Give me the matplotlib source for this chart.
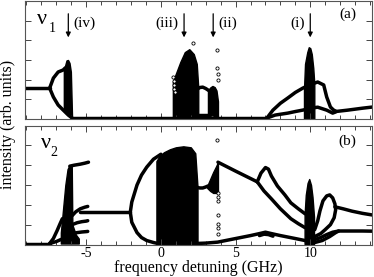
import matplotlib
matplotlib.use("Agg")
import matplotlib.pyplot as plt
from matplotlib.ticker import MultipleLocator, FixedLocator

# ---------------- data (GHz, arb. units) ----------------
# top panel (nu1)
t_flat_x = [-9.1, -7.45]
t_flat_y = [1.57, 1.57]
t_loop_up_x = [-7.45, -7.2, -6.88, -6.55, -6.4]
t_loop_up_y = [1.57, 2.08, 2.39, 2.49, 2.6]
t_loop_lo_x = [-7.45, -7.2, -6.88, -6.55, -6.2, -5.95]
t_loop_lo_y = [1.57, 1.12, 0.71, 0.46, 0.2, 0.05]
t_iv_x = [-6.5, -6.42, -6.32, -6.22, -6.12, -6.03, -5.95]
t_iv_top = [2.5, 2.7, 2.98, 3.0, 2.85, 2.4, 0.1]
t_iv_bot = [0.42, 0.38, 0.3, 0.22, 0.15, 0.08, 0.05]
t_zero_x = [-5.95, 7.1]
t_zero_y = [0.05, 0.05]
t_iii_x = [0.8, 1.0, 1.3, 1.6, 1.9, 2.2, 2.4, 2.5]
t_iii_top = [1.9, 2.3, 2.9, 3.4, 3.55, 3.3, 2.8, 1.6]
t_hump_up_x = [2.4, 2.6, 2.8, 3.0, 3.2]
t_hump_up_y = [1.5, 1.6, 1.62, 1.55, 1.45]
t_hump_lo_x = [2.4, 3.3]
t_hump_lo_y = [0.2, 0.2]
t_ii_x = [3.15, 3.3, 3.45, 3.6, 3.72, 3.82]
t_ii_top = [1.45, 1.6, 1.68, 1.62, 1.45, 0.9]
t_ii_bot = [0.2, 0.2, 0.18, 0.15, 0.1, 0.05]
t_up_x = [7.1, 7.5, 8.0, 8.5, 9.0, 9.5, 10.0, 10.5, 10.9, 11.1, 11.35, 11.55, 11.7]
t_up_y = [0.05, 0.45, 0.8, 1.07, 1.35, 1.57, 1.75, 1.88, 1.73, 1.12, 0.61, 0.46, 0.4]
t_lo_x = [7.1, 7.65, 8.5, 9.0, 9.55, 10.0, 10.5, 11.1, 11.5, 11.7]
t_lo_y = [0.05, 0.2, 0.3, 0.38, 0.46, 0.55, 0.6, 0.45, 0.3, 0.36]
t_right_x = [11.7, 12.5, 13.5, 14.3]
t_right_y = [0.38, 0.45, 0.55, 0.62]
t_i_x = [9.58, 9.65, 9.8, 9.9, 10.0, 10.1, 10.2, 10.27]
t_i_top = [1.5, 2.8, 3.4, 3.65, 3.6, 3.3, 2.6, 1.8]
t_scat_x = [0.82, 0.85, 0.88, 0.9, 0.93, 2.15, 3.78, 3.78, 3.8, 3.8]
t_scat_y = [2.15, 1.95, 1.75, 1.55, 1.35, 3.85, 3.5, 2.6, 2.3, 2.0]

# bottom panel (nu2)
b_zero_x = [-9.1, -7.45]
b_zero_y = [0.05, 0.05]
b_rise1_x = [-7.45, -7.2, -6.95, -6.75, -6.6]
b_rise1_y = [0.05, 0.3, 0.7, 1.05, 1.3]
b_rise2_x = [-7.45, -7.0, -6.7, -6.5]
b_rise2_y = [0.05, 0.15, 0.25, 0.3]
b_iv_x = [-6.7, -6.55, -6.4, -6.25, -6.15, -5.97, -5.93, -5.7, -5.5]
b_iv_top = [0.6, 1.8, 3.0, 3.8, 3.95, 3.95, 1.0, 0.5, 0.3]
b_iv_bot = [0.05, 0.05, 0.05, 0.05, 0.05, 0.05, 0.05, 0.05, 0.05]
b_branch_x = [-6.1, -5.8, -5.4, -5.1, -4.85]
b_branch_y = [3.95, 4.0, 4.05, 4.1, 4.15]
b_f1_x = [-5.95, -5.7, -5.4, -5.1, -4.9]
b_f1_y = [1.45, 1.65, 1.8, 1.88, 1.92]
b_f2_x = [-5.95, -5.6, -5.3, -5.0, -4.9]
b_f2_y = [1.0, 1.1, 1.15, 1.18, 1.2]
b_f3_x = [-5.95, -5.6, -5.3, -5.0, -4.9]
b_f3_y = [0.55, 0.6, 0.63, 0.65, 0.66]
b_flat_x = [-5.45, -2.05]
b_flat_y = [1.63, 1.63]
b_bub_up_x = [-2.05, -1.95, -1.6, -1.3, -0.95, -0.5, 0.0]
b_bub_up_y = [1.63, 2.14, 3.0, 3.5, 3.9, 4.3, 4.55]
b_bub_lo_x = [-2.05, -1.95, -1.6, -1.3, -0.95, -0.5, -0.2]
b_bub_lo_y = [1.63, 1.12, 0.6, 0.35, 0.2, 0.1, 0.05]
b_iii_x = [-0.3, -0.1, 0.2, 0.6, 1.0, 1.5, 2.0, 2.3, 2.45]
b_iii_top = [4.2, 4.45, 4.65, 4.8, 4.9, 4.95, 4.9, 4.6, 2.9]
b_mid_x = [2.3, 2.6, 2.8, 3.0, 3.15]
b_mid_y = [2.9, 2.85, 2.85, 2.9, 2.95]
b_ii_x = [3.1, 3.3, 3.5, 3.7, 3.82]
b_ii_top = [2.95, 3.3, 3.65, 3.95, 4.15]
b_ii_bot = [2.85, 2.7, 2.6, 2.6, 2.65]
b_desc_x = [3.82, 5.0, 6.45]
b_desc_y = [4.15, 3.7, 3.16]
b_arc_up_x = [6.45, 6.7, 7.0, 7.2, 7.4, 7.8, 8.3, 8.7, 9.2, 9.65]
b_arc_up_y = [3.16, 3.6, 3.88, 3.8, 3.45, 2.95, 2.5, 2.1, 1.8, 1.55]
b_arc_lo_x = [6.45, 6.9, 7.4, 8.0, 8.7, 9.2, 9.65]
b_arc_lo_y = [3.16, 2.7, 2.3, 1.8, 1.3, 1.05, 0.85]
b_base_x = [2.3, 3.0, 3.8, 5.0, 6.0, 6.6, 7.0, 7.4, 8.0, 9.0, 9.65]
b_base_y = [0.05, 0.07, 0.12, 0.3, 0.45, 0.55, 0.62, 0.55, 0.45, 0.3, 0.2]
b_base2_x = [6.6, 6.9, 7.2, 7.5]
b_base2_y = [0.45, 0.52, 0.5, 0.42]
b_i_x = [9.62, 9.7, 9.82, 9.93, 10.05, 10.15, 10.25]
b_i_top = [1.5, 2.5, 3.1, 3.3, 3.0, 2.4, 1.4]
b_loop_x = [10.3, 10.5, 10.65, 10.85, 11.1, 11.3, 11.5, 11.65, 11.7, 11.6, 11.35, 11.0, 10.7, 10.3]
b_loop_y = [0.75, 1.2, 1.7, 2.2, 2.45, 2.5, 2.35, 2.05, 1.75, 1.35, 1.0, 0.75, 0.55, 0.4]
b_rup_x = [11.65, 12.2, 12.8, 13.5, 14.3]
b_rup_y = [1.9, 1.8, 1.68, 1.57, 1.47]
b_rlo_x = [10.3, 10.7, 11.1, 11.5, 11.9, 12.5, 13.5, 14.3]
b_rlo_y = [0.25, 0.35, 0.5, 0.62, 0.68, 0.68, 0.68, 0.67]
b_rlo2_x = [10.3, 10.8, 11.3, 11.7, 11.9]
b_rlo2_y = [0.1, 0.2, 0.4, 0.6, 0.68]
b_scat_x = [3.78, 3.8, 3.8, 3.8, 3.8, 3.8, 3.8, 3.8]
b_scat_y = [5.25, 2.6, 2.4, 2.2, 1.5, 1.05, 0.85, 0.55]

arrow_x = [10.0, 3.5, 1.55, -6.2]
arrow_lbl = ["(i)", "(ii)", "(iii)", "(iv)"]
arrow_side = ["left", "right", "left", "right"]

xticks = [-5, 0, 5, 10]
xticklabels = ["-5", "0", "5", "10"]

# ---------------- figure ----------------
SERIF = ["Liberation Serif", "DejaVu Serif"]
plt.rcParams["font.family"] = SERIF
W, H = 374, 277
fig = plt.figure(figsize=(W / 100, H / 100), dpi=100)

def ax_rect(l, t, r, b):
    return [l / W, 1 - b / H, (r - l) / W, (b - t) / H]

ax1 = fig.add_axes(ax_rect(25, 1, 371.5, 119))
ax2 = fig.add_axes(ax_rect(25, 125.5, 371.5, 244.5))

LW = 2.5
K = "black"

def line(ax, x, y):
    ax.plot(x, y, color=K, lw=LW, solid_capstyle="round", solid_joinstyle="round", clip_on=True)

def block(ax, x, top, bot=None):
    if bot is None:
        bot = [0.03] * len(x)
    ax.fill_between(x, bot, top, color=K, lw=1.0, edgecolor=K)

def scat(ax, x, y):
    ax.plot(x, y, ls="none", marker="o", ms=2.3, mfc="white", mec=K, mew=0.6)

# top
line(ax1, t_flat_x, t_flat_y)
line(ax1, t_loop_up_x, t_loop_up_y)
line(ax1, t_loop_lo_x, t_loop_lo_y)
block(ax1, t_iv_x, t_iv_top, t_iv_bot)
line(ax1, t_zero_x, t_zero_y)
block(ax1, t_iii_x, t_iii_top)
line(ax1, t_hump_up_x, t_hump_up_y)
line(ax1, t_hump_lo_x, t_hump_lo_y)
block(ax1, t_ii_x, t_ii_top, t_ii_bot)
line(ax1, t_up_x, t_up_y)
line(ax1, t_lo_x, t_lo_y)
line(ax1, t_right_x, t_right_y)
block(ax1, t_i_x, t_i_top)
scat(ax1, t_scat_x, t_scat_y)

# bottom
line(ax2, b_zero_x, b_zero_y)
line(ax2, b_rise1_x, b_rise1_y)
line(ax2, b_rise2_x, b_rise2_y)
block(ax2, b_iv_x, b_iv_top, b_iv_bot)
line(ax2, b_branch_x, b_branch_y)
line(ax2, b_f1_x, b_f1_y)
line(ax2, b_f2_x, b_f2_y)
line(ax2, b_f3_x, b_f3_y)
line(ax2, b_flat_x, b_flat_y)
line(ax2, b_bub_up_x, b_bub_up_y)
line(ax2, b_bub_lo_x, b_bub_lo_y)
block(ax2, b_iii_x, b_iii_top)
line(ax2, b_mid_x, b_mid_y)
block(ax2, b_ii_x, b_ii_top, b_ii_bot)
line(ax2, b_desc_x, b_desc_y)
line(ax2, b_arc_up_x, b_arc_up_y)
line(ax2, b_arc_lo_x, b_arc_lo_y)
line(ax2, b_base_x, b_base_y)
line(ax2, b_base2_x, b_base2_y)
block(ax2, b_i_x, b_i_top)
line(ax2, b_loop_x, b_loop_y)
line(ax2, b_rup_x, b_rup_y)
line(ax2, b_rlo_x, b_rlo_y)
line(ax2, b_rlo2_x, b_rlo2_y)
scat(ax2, b_scat_x, b_scat_y)

for ax in (ax1, ax2):
    ax.set_xlim(-9.1, 14.1)
    ax.set_ylim(0, 6)
    ax.xaxis.set_major_locator(FixedLocator(xticks))
    ax.xaxis.set_minor_locator(MultipleLocator(1))
    ax.yaxis.set_major_locator(MultipleLocator(1))
    ax.tick_params(which="both", direction="in", top=True, right=True,
                   width=0.7, color="#444444")
    ax.tick_params(which="major", length=4)
    ax.tick_params(which="minor", length=3)
    ax.set_yticklabels([])
    for s in ax.spines.values():
        s.set_linewidth(0.8)
        s.set_color("#555555")

ax1.set_xticklabels([])
ax2.set_xticklabels(xticklabels, fontsize=10)
ax2.tick_params(axis="x", pad=1.5)

# arrows and labels (top panel)
for xa, lb, side in zip(arrow_x, arrow_lbl, arrow_side):
    ax1.annotate("", xy=(xa, 4.15), xytext=(xa, 5.35),
                 arrowprops=dict(arrowstyle="-|>", color=K, lw=0.9,
                                 mutation_scale=7, shrinkA=0, shrinkB=0))
    dx = 0.35 if side == "right" else -0.35
    ax1.text(xa + dx, 4.85, lb, ha="left" if side == "right" else "right",
             va="center", fontsize=11)

ax1.text(0.955, 0.885, "(a)", transform=ax1.transAxes, ha="right", va="center", fontsize=11)
ax2.text(0.955, 0.87, "(b)", transform=ax2.transAxes, ha="right", va="center", fontsize=11)

# nu labels
fig.text(42 / W, 1 - 19 / H, "ν", fontsize=16, ha="center", va="center")
fig.text(52 / W, 1 - 28 / H, "1", fontsize=10, ha="center", va="center")
fig.text(46 / W, 1 - 143 / H, "ν", fontsize=16, ha="center", va="center")
fig.text(54 / W, 1 - 152 / H, "2", fontsize=10, ha="center", va="center")

fig.text(198 / W, 1 - 268 / H, "frequency detuning (GHz)", fontsize=11.5,
         ha="center", va="center")
fig.text(8 / W, 1 - 124 / H, "intensity (arb. units)", fontsize=11.5,
         ha="center", va="center", rotation=90)

fig.savefig("out.png", dpi=100)
